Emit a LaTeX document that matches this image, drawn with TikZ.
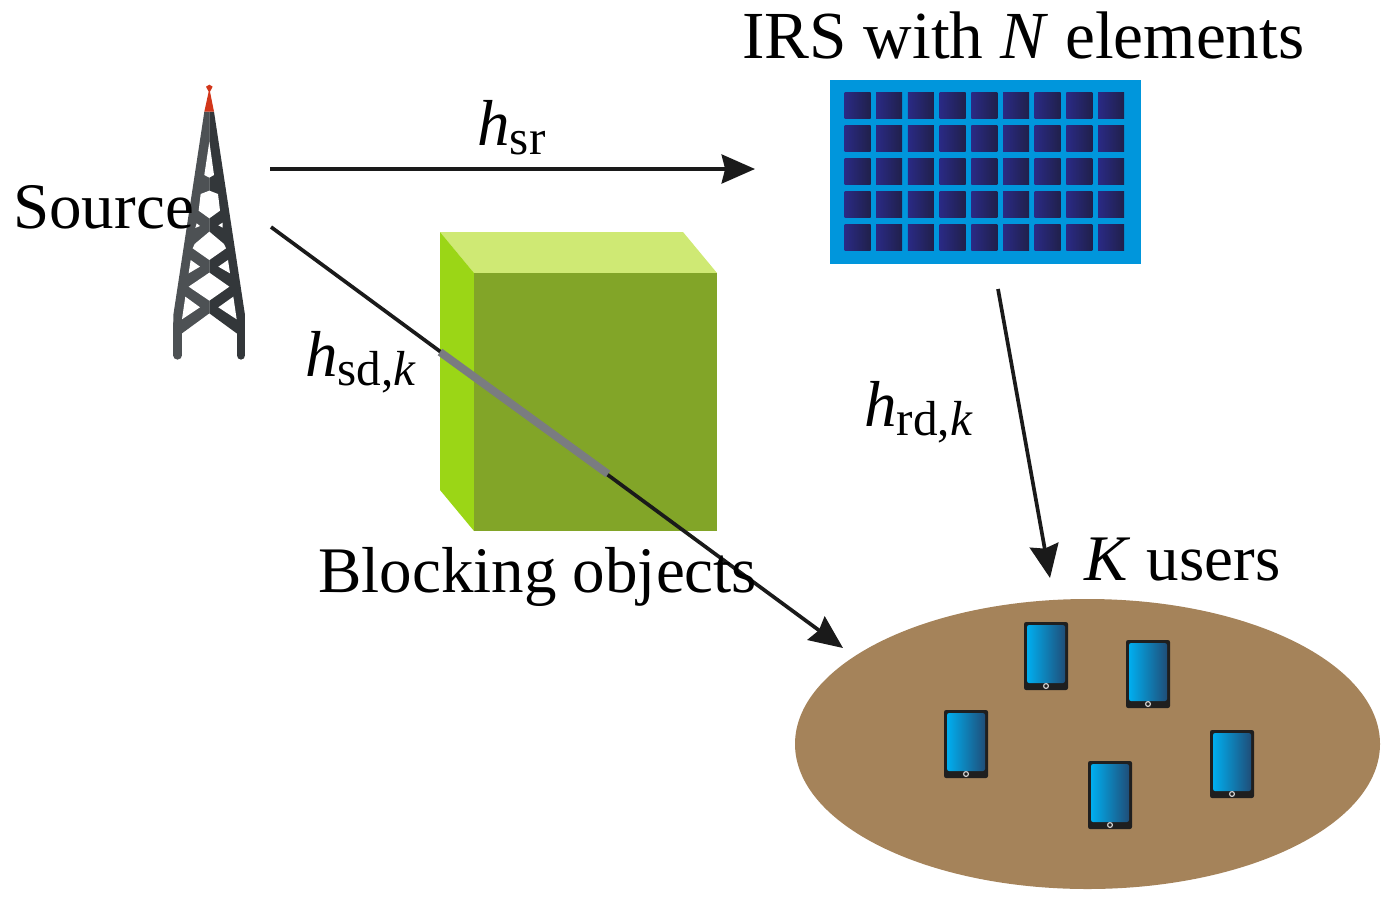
\documentclass[tikz,border=0pt]{standalone}
\usepackage{amsmath}
\usepackage{fontspec}
\setmainfont{Liberation Serif}
\usetikzlibrary{arrows.meta}

\definecolor{towerL}{HTML}{4D5154}
\definecolor{towerR}{HTML}{33373A}
\definecolor{towerTop}{HTML}{D2361A}
\definecolor{irsBlue}{HTML}{0096DC}
\definecolor{cellL}{HTML}{2A2A85}
\definecolor{cellR}{HTML}{20204A}
\definecolor{cubeTop}{HTML}{CFE974}
\definecolor{cubeSide}{HTML}{9BD616}
\definecolor{cubeFront}{HTML}{82A528}
\definecolor{ground}{HTML}{A5835A}
\definecolor{screenL}{HTML}{00AEEF}
\definecolor{screenR}{HTML}{1F4E79}
\definecolor{wire}{HTML}{1A1A1A}
\definecolor{blocked}{HTML}{7A7C80}

\newcommand{\chan}[1]{\textit{h}\raisebox{-5.5pt}{\fontsize{28}{30}\selectfont #1}}

\tikzset{
  label/.style={inner sep=0pt, anchor=base west, font=\fontsize{37}{40}\selectfont},
  link/.style={draw=wire, line width=2.1pt, -{Stealth[length=19pt, width=16.5pt, inset=2pt]}},
  cell/.pic={
    \shade[left color=cellL, right color=cellR] (0,0) rectangle (26,26);
  },
  tablet/.pic={
    \fill[black!88, rounded corners=1.2pt] (-22,-64) rectangle (22,4);
    \shade[left color=screenL, right color=screenR, rounded corners=1.2pt] (-19,-61) rectangle (19,-3);
    \draw[black!20, line width=0.7pt] (0,0) circle (2.4);
  }
}

\begin{document}
\begin{tikzpicture}[x=0.02cm, y=-0.02cm]
      \useasboundingbox (0, 0) rectangle (1395, 906);

      % tower
      \begin{scope}[shift={(150, 70)}, x=0.00667cm, y=-0.00667cm]
        \fill[towerL] (178, 125) -- (163, 125) -- (70, 735) -- (70, 790) -- (96, 790) -- (178, 730) -- cycle;
        \fill[towerR] (178, 125) -- (192, 125) -- (285, 735) -- (285, 790) -- (260, 790) -- (178, 730) -- cycle;
        \draw[towerL, line width=4.9pt, line cap=round] (83, 760) -- (83, 856);
        \draw[towerR, line width=4.9pt, line cap=round] (273, 760) -- (273, 856);
        \fill[towerTop] (163, 125) -- (192, 125) -- (180, 65) -- (188, 50) -- (178, 44) -- (168, 50) -- (176, 65) -- cycle;
        \fill[white] (178, 215) -- (192, 315) -- (178, 323) -- (163, 315) -- cycle;
        \fill[white] (178, 362) -- (204, 372) -- (210, 422) -- (178, 445) -- (146, 422) -- (152, 372) -- cycle;
        \fill[white] (140, 460) -- (150, 468) -- (136, 474) -- cycle;
        \fill[white] (218, 458) -- (205, 466) -- (218, 473) -- cycle;
        \fill[white] (178, 485) -- (222, 522) -- (228, 535) -- (178, 570) -- (128, 535) -- (134, 522) -- cycle;
        \fill[white] (122, 570) -- (150, 590) -- (116, 610) -- cycle;
        \fill[white] (234, 570) -- (205, 590) -- (240, 610) -- cycle;
        \fill[white] (178, 608) -- (238, 650) -- (178, 692) -- (116, 650) -- cycle;
        \fill[white] (106, 680) -- (150, 712) -- (96, 748) -- cycle;
        \fill[white] (250, 680) -- (205, 712) -- (260, 748) -- cycle;
      \end{scope}

      % cube
      \fill[cubeTop] (440, 232) -- (683, 232) -- (717, 273) -- (474, 273) -- cycle;
      \fill[cubeSide] (440, 232) -- (474, 273) -- (474, 531) -- (440, 490) -- cycle;
      \fill[cubeFront] (474, 273) rectangle (717, 531);

      % irs
      \fill[irsBlue] (830, 80) rectangle (1141, 264);
      \foreach \col in {0,...,8}
        \foreach \row in {0,...,4}
          \pic at ({844.5 + 31.7*\col}, {92 + 33*\row}) {cell};

      % users
      \fill[ground] (1087.5, 744) ellipse (292.5 and 145);
      \foreach \ux/\uy in {1046/686, 1148/704, 966/774, 1110/825, 1232/794}
        \pic at (\ux, \uy) {tablet};

      % links
      \coordinate (srcA) at (270, 169);
      \coordinate (irsIn) at (755, 169);
      \coordinate (srcB) at (271, 227);
      \coordinate (usersIn) at (843, 648);
      \coordinate (blockIn) at (440, 352);
      \coordinate (blockOut) at (608, 474);
      \coordinate (irsOut) at (998, 289);
      \coordinate (usersTop) at (1050, 578);

      \draw[link] (srcA) -- (irsIn);
      \draw[link] (srcB) -- (usersIn);
      \draw[link] (irsOut) -- (usersTop);
      \draw[blocked, line width=4.5pt] (blockIn) -- (blockOut);

      % labels
      \node[label] (source) at (13, 228) {Source};
      \node[label] (blocking) at (318, 592) {Blocking objects};
      \node[label, font=\fontsize{38.3}{40}\selectfont] (irs) at (742, 58) {IRS with \textit{N} elements};
      \node[label] (users) at (1084, 580) {\textit{K} users};
      \node[label] (hsr) at (477, 145) {\chan{sr}};
      \node[label] (hsd) at (305, 376) {\chan{sd,\textit{k}}};
      \node[label] (hrd) at (864, 426) {\chan{rd,\textit{k}}};
    \end{tikzpicture}
\end{document}
